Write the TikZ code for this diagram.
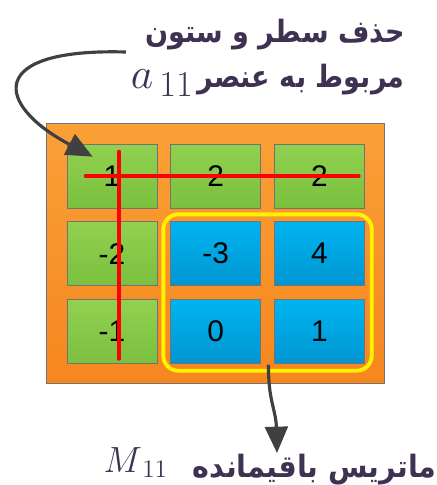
\documentclass[tikz,border=0pt]{standalone}
\usepackage{fontspec}
\usepackage{tikz}
\usetikzlibrary{arrows.meta,positioning,fit,calc,backgrounds}
\TeXXeTstate=1
\newfontfamily\numfont{Liberation Sans}
\newfontfamily\arabicfont[Script=Arabic]{DejaVu Sans}
\newcommand\narrow[2][0.88]{\scalebox{#1}[1]{#2}}
\definecolor{ink}{RGB}{63,49,81}
\definecolor{arrowgray}{RGB}{64,64,64}
\definecolor{greentop}{RGB}{146,208,80}
\definecolor{greenbot}{RGB}{122,192,62}
\definecolor{bluetop}{RGB}{0,180,240}
\definecolor{bluebot}{RGB}{0,150,210}
\definecolor{orangetop}{RGB}{250,160,55}
\definecolor{orangebot}{RGB}{245,135,30}
\tikzset{
  % cells of the matrix
  cell/.style={draw=black!55, minimum width=1.8cm, minimum height=1.28cm, inner sep=0pt,
    font=\numfont\fontsize{17}{20}\selectfont},
  minor/.style={cell, top color=greentop, bottom color=greenbot},
  rest/.style={cell, top color=bluetop, bottom color=bluebot},
  board/.style={draw=black!55, top color=orangetop, bottom color=orangebot, inner sep=0.4cm},
  keep/.style={draw=yellow, line width=2.2pt, rounded corners=0.3cm, inner sep=0.14cm},
  cut/.style={draw=red, line width=2.2pt, line cap=round},
  flow/.style={draw=arrowgray, line width=1.8pt, -{Triangle[length=15pt,width=13pt]}},
  % labels
  ttl/.style={text=ink, font=\arabicfont\bfseries\fontsize{17.5}{20}\selectfont, inner sep=0pt},
  sym/.style={text=ink, inner sep=0pt}
}
\begin{document}
\begin{tikzpicture}[x=0.02cm, y=-0.02cm, node distance=0.26cm]
    \useasboundingbox (0,0) rectangle (437,485);
    \node[minor] (c11) at (112,176) {1};
    \node[minor, right=of c11] (c12) {2};
    \node[minor, right=of c12] (c13) {2};
    \node[minor, below=of c11] (c21) {-2};
    \node[rest, right=of c21] (c22) {-3};
    \node[rest, right=of c22] (c23) {4};
    \node[minor, below=of c21] (c31) {-1};
    \node[rest, right=of c31] (c32) {0};
    \node[rest, right=of c32] (c33) {1};
    \begin{scope}[on background layer]
      \node[board, fit=(c11)(c33)] (board) {};
    \end{scope}
    \node[keep, fit=(c22)(c33)] (rem) {};

    % struck row and column
    \coordinate (rowL) at ($(c11.west)+(19,0)$);
    \coordinate (rowR) at ($(c13.east)+(-6,0)$);
    \coordinate (colT) at ($(c11.north)+(7,8)$);
    \coordinate (colB) at ($(c31.south)+(7,-5)$);
    \draw[cut] (rowL) -- (rowR);
    \draw[cut] (colT) -- (colB);

    \node[ttl, anchor=base east] (t1) at (405,42) {\narrow{\beginR حذف سطر و ستون\endR}};
    \node[ttl, anchor=base east] (t2) at (405,87) {\narrow{\beginR مربوط به عنصر\endR}};
    \node[sym, anchor=base east, font=\fontsize{29}{30}\selectfont] (a11) at ($(t2.base west)+(-3,1)$) {$a_{\,11}$};
    \node[ttl, anchor=base east] (t3) at (437,477) {\narrow[0.93]{\beginR ماتریس باقیمانده\endR}};
    \node[sym, anchor=base east, font=\fontsize{20}{22}\selectfont] (m11) at ($(t3.base west)+(-24,-5)$) {$M_{\,11}$};

    \coordinate (from1) at (126,52);
    \coordinate (to1) at ($(c11.north west)+(26,13)$);
    \draw[flow] (from1) .. controls (-15,48) and (-5,105) .. (to1);
    \coordinate (from2) at ($(rem.south)+(1,-8)$);
    \coordinate (to2) at (277,453);
    \draw[flow] (from2) .. controls (268,400) and (276,410) .. (to2);
  \end{tikzpicture}
\end{document}
